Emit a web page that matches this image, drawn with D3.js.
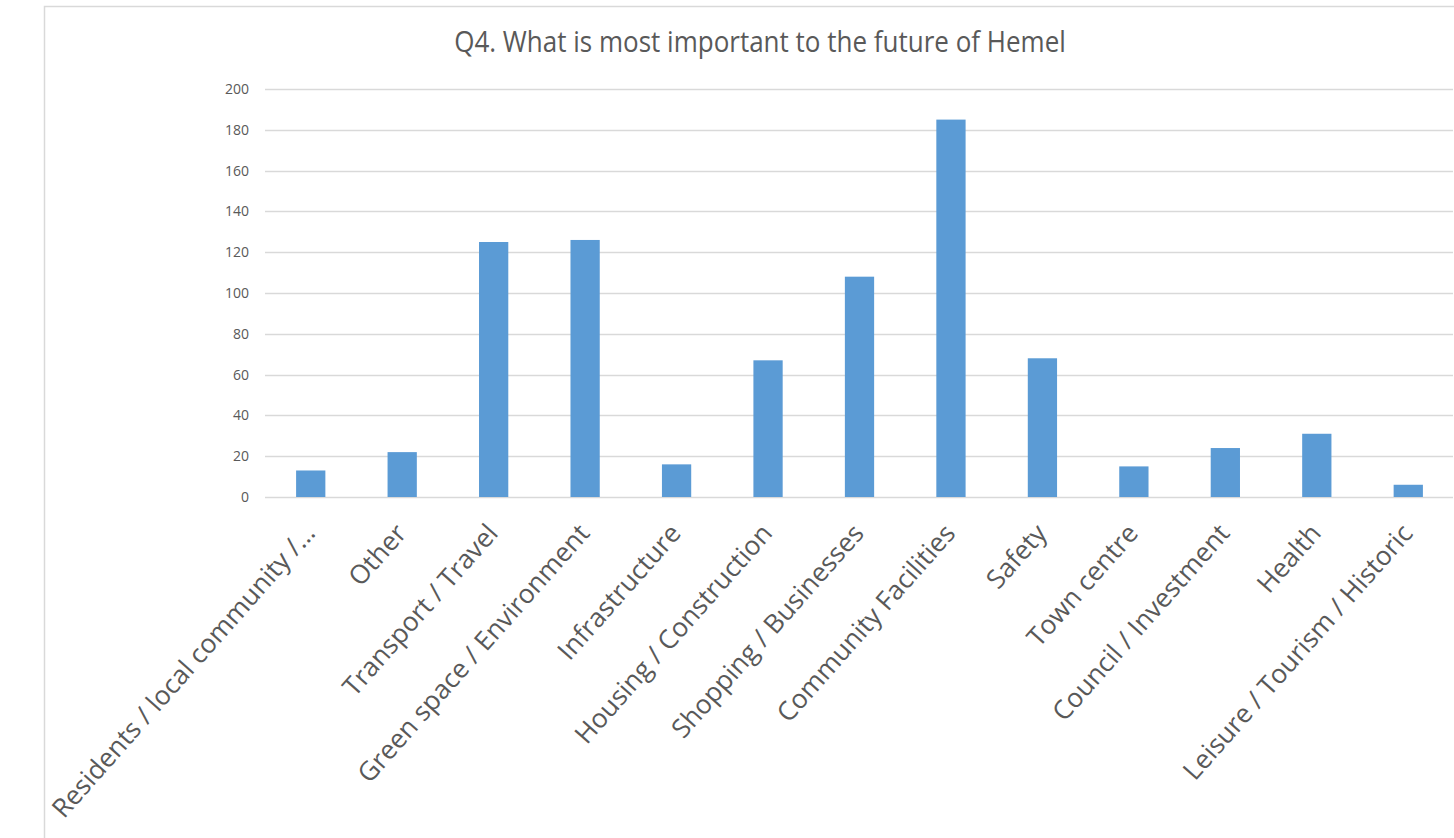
<!DOCTYPE html>
<html><head><meta charset="utf-8">
<script src="https://cdn.jsdelivr.net/npm/d3@7"></script>
<style>html,body{margin:0;padding:0;background:#fff;overflow:hidden}</style>
</head><body>
<script>
const categories = ["Residents / local community /\u2026","Other","Transport / Travel","Green space / Environment","Infrastructure","Housing / Construction","Shopping / Businesses","Community Facilities","Safety","Town centre","Council / Investment","Health","Leisure / Tourism / Historic"];
const values = [13,22,125,126,16,67,108,185,68,15,24,31,6];
const yTicks = [0,20,40,60,80,100,120,140,160,180,200];
const title = "Q4. What is most important to the future of Hemel";

const W = 1454, H = 838;
const font = "'Open Sans', sans-serif";
const svg = d3.select("body").append("svg").attr("width", W).attr("height", H);

svg.append("rect").attr("x", 44.5).attr("y", 6.5).attr("width", 1430).attr("height", 850)
  .attr("fill", "#fff").attr("stroke", "#D9D9D9").attr("stroke-width", 1.5);

const x = d3.scaleBand().domain(categories).range([265, 1454]).paddingInner(0.68).paddingOuter(0.34);
const y = d3.scaleLinear().domain([0, 200]).range([497, 89]);

svg.append("text").attr("transform", "translate(760,52) scale(1,1.1)").attr("text-anchor", "middle")
  .attr("font-family", font).attr("font-size", 26).attr("fill", "#595959").text(title);

const grid = svg.append("g");
grid.selectAll("line").data(yTicks).join("line")
  .attr("x1", 265).attr("x2", 1453)
  .attr("y1", d => Math.round(y(d)) + 0.5).attr("y2", d => Math.round(y(d)) + 0.5)
  .attr("stroke", "#D9D9D9").attr("stroke-width", 1.5);

svg.append("g").selectAll("text").data(yTicks).join("text")
  .attr("x", 249).attr("y", d => y(d)).attr("dy", "0.35em").attr("text-anchor", "end")
  .attr("font-family", font).attr("font-size", 14).attr("fill", "#595959").text(d => d);

svg.append("g").selectAll("rect").data(values).join("rect")
  .attr("x", (d, i) => x(categories[i])).attr("width", x.bandwidth())
  .attr("y", d => y(d)).attr("height", d => y(0) - y(d))
  .attr("fill", "#5B9BD5");

svg.append("g").selectAll("text").data(categories).join("text")
  .attr("transform", d => `translate(${x(d) + x.bandwidth() / 2 - 7},${523}) rotate(-48.5)`)
  .attr("text-anchor", "end").attr("dy", 17)
  .attr("font-family", font).attr("font-size", 26.3).attr("fill", "#595959").text(d => d);
</script>
</body></html>
